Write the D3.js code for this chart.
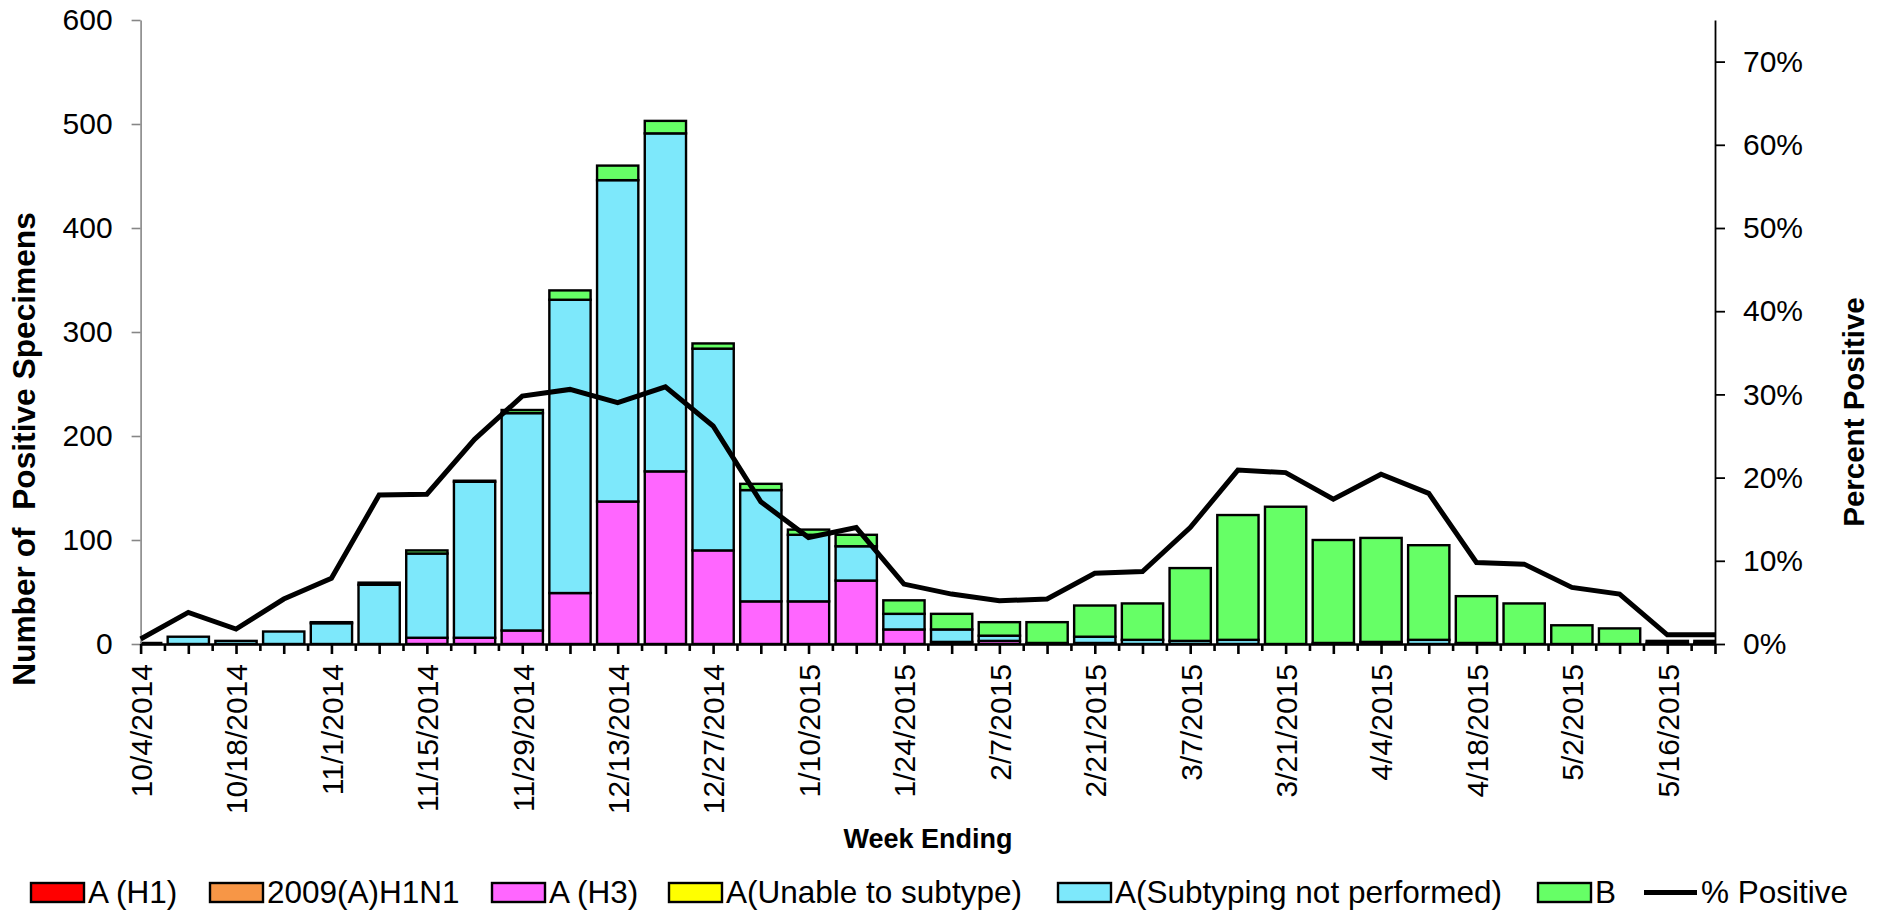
<!DOCTYPE html>
<html>
<head>
<meta charset="utf-8">
<script src="https://cdn.jsdelivr.net/npm/d3@7"></script>
<style>
  html, body { margin: 0; padding: 0; background: #fff; }
  svg { display: block; font-family: "Liberation Sans", Arial, sans-serif; }
</style>
</head>
<body>
<svg id="chart" width="1879" height="913"></svg>
<script>
// ---------------- DATA ----------------
const weeks = ["10/4/2014","10/11/2014","10/18/2014","10/25/2014","11/1/2014","11/8/2014","11/15/2014","11/22/2014",
  "11/29/2014","12/6/2014","12/13/2014","12/20/2014","12/27/2014","1/3/2015","1/10/2015","1/17/2015","1/24/2015",
  "1/31/2015","2/7/2015","2/14/2015","2/21/2015","2/28/2015","3/7/2015","3/14/2015","3/21/2015","3/28/2015",
  "4/4/2015","4/11/2015","4/18/2015","4/25/2015","5/2/2015","5/9/2015","5/16/2015","5/23/2015"];

const seriesNames = ["A (H1)", "2009(A)H1N1", "A (H3)", "A(Unable to subtype)", "A(Subtyping not performed)", "B"];
const seriesColors = ["#FF0000", "#F79646", "#FF66FF", "#FFFF00", "#7DE8FB", "#66FF66"];

const aH1      = [0,0,0,0,0,0,0,0,0,0,0,0,0,0,0,0,0,0,0,0,0,0,0,0,0,0,0,0,0,0,0,0,0,0];
const aH1N1    = [0,0,0,0,0,0,0,0,0,0,0,0,0,0,0,0,0,0,0,0,0,0,0,0,0,0,0,0,0,0,0,0,0,0];
const aH3      = [0,0,0,0,0,0,6,6,13,49,137,166,90,41,41,61,14,2,3,0,1,0,0,0,0,0,0,0,0,0,0,0,0,0];
const aUnable  = [0,0,0,0,0,0,0,0,0,0,0,0,0,0,0,0,0,0,0,0,0,0,0,0,0,0,0,0,0,0,0,0,0,0];
const aNotPerf = [1,7,3,12,20,57,81,150,209,282,309,325,194,107,64,33,15,12,5,1,6,4,3,4,0,1,2,4,1,0,0,0,1,1];
const bVals    = [0,0,0,0,1,2,3,1,3,9,14,12,5,6,5,11,13,15,13,20,30,35,70,120,132,99,100,91,45,39,18,15,2,2];
const pctPositive = [0.6,3.8,1.8,5.4,7.9,17.9,18.0,24.6,29.8,30.6,29.0,30.9,26.2,17.1,12.8,14.0,7.2,6.0,5.2,5.4,
  8.5,8.7,14.0,20.9,20.6,17.4,20.4,18.1,9.8,9.6,6.8,6.0,1.1,1.1];

const leftTicks = [0,100,200,300,400,500,600];
const rightTicks = [0,0.1,0.2,0.3,0.4,0.5,0.6,0.7];

// ---------------- LAYOUT ----------------
const svg = d3.select("#chart");
const X0 = 140.6, X1 = 1715, Y0 = 644, Y1 = 20;
const legendX = [31, 210, 492, 669, 1058, 1538, 1644];

const x = d3.scalePoint().domain(weeks).range([X0, X1]).padding(0);
const xi = d3.scaleLinear().domain([0, weeks.length - 1]).range([X0, X1]);
const y = d3.scaleLinear().domain([0, 600]).range([Y0, Y1]);
const y2 = d3.scaleLinear().domain([0, 0.75]).range([Y0, Y1]);

const barW = x.step() * 0.865;

const table = weeks.map((w, i) => ({
  week: w,
  [seriesNames[0]]: aH1[i],
  [seriesNames[1]]: aH1N1[i],
  [seriesNames[2]]: aH3[i],
  [seriesNames[3]]: aUnable[i],
  [seriesNames[4]]: aNotPerf[i],
  [seriesNames[5]]: bVals[i]
}));
const stacked = d3.stack().keys(seriesNames)(table);

svg.append("defs").append("clipPath").attr("id", "plotclip")
  .append("rect").attr("x", X0).attr("y", 0).attr("width", X1 - X0).attr("height", Y0 + 2);

const barsG = svg.append("g").attr("clip-path", "url(#plotclip)");
stacked.forEach((layer, k) => {
  barsG.append("g")
    .selectAll("rect")
    .data(layer.filter(d => d[1] - d[0] > 0))
    .join("rect")
    .attr("x", d => x(d.data.week) - barW / 2)
    .attr("width", barW)
    .attr("y", d => y(d[1]))
    .attr("height", d => y(d[0]) - y(d[1]))
    .attr("fill", seriesColors[k])
    .attr("stroke", "#000")
    .attr("stroke-width", 2.4);
});

// ---------------- AXES ----------------
const fontTick = 30;

// Left axis
const gl = svg.append("g").attr("transform", `translate(${X0},0)`)
  .call(d3.axisLeft(y).tickValues(leftTicks).tickSize(9).tickPadding(19).tickSizeOuter(0));
gl.select(".domain").attr("stroke", "#868686").attr("stroke-width", 1.6);
gl.selectAll(".tick line").attr("stroke", "#868686").attr("stroke-width", 1.6);
gl.selectAll(".tick text").attr("font-size", fontTick).attr("fill", "#000")
  .attr("font-family", "'Liberation Sans', Arial, sans-serif");

// Right axis
const gr = svg.append("g").attr("transform", `translate(${X1},0)`)
  .call(d3.axisRight(y2).tickValues(rightTicks).tickFormat(d3.format(".0%")).tickSize(10).tickPadding(18).tickSizeOuter(0));
gr.select(".domain").attr("stroke", "#000").attr("stroke-width", 1.8);
gr.selectAll(".tick line").attr("stroke", "#000").attr("stroke-width", 1.8);
gr.selectAll(".tick text").attr("font-size", fontTick).attr("fill", "#000")
  .attr("font-family", "'Liberation Sans', Arial, sans-serif");

// Bottom axis: minor ticks (between weeks)
const minorVals = d3.range(0, weeks.length - 1).map(i => i + 0.5);
const gbm = svg.append("g").attr("transform", `translate(0,${Y0})`)
  .call(d3.axisBottom(xi).tickValues(minorVals).tickSize(7).tickFormat("").tickSizeOuter(0));
gbm.select(".domain").remove();
gbm.selectAll(".tick line").attr("stroke", "#000").attr("stroke-width", 2.6);

// Bottom axis: major ticks at each week
const gb = svg.append("g").attr("transform", `translate(0,${Y0})`)
  .call(d3.axisBottom(x).tickSize(10).tickSizeOuter(0)
    .tickFormat((d, i) => (i % 2 === 0 && i < weeks.length - 1) ? d : ""));
gb.select(".domain").attr("stroke", "#000").attr("stroke-width", 2.6);
gb.selectAll(".tick line").attr("stroke", "#000").attr("stroke-width", 2.6);
gb.selectAll(".tick text")
  .attr("font-size", fontTick).attr("fill", "#000")
  .attr("font-family", "'Liberation Sans', Arial, sans-serif")
  .attr("transform", "rotate(-90)")
  .attr("text-anchor", "end")
  .attr("x", -20).attr("y", 0).attr("dy", "0.36em");

// ---------------- LINE ----------------
const line = d3.line()
  .x((d, i) => x(weeks[i]))
  .y(d => y2(d / 100));
svg.append("path")
  .datum(pctPositive)
  .attr("d", line)
  .attr("fill", "none")
  .attr("stroke", "#000")
  .attr("stroke-width", 5)
  .attr("stroke-linejoin", "miter");

// ---------------- TITLES ----------------
svg.append("text")
  .attr("transform", "translate(24,449) rotate(-90)")
  .attr("text-anchor", "middle").attr("dominant-baseline", "central")
  .attr("font-size", 31.7).attr("font-weight", "bold")
  .style("white-space", "pre")
  .text("Number of  Positive Specimens");

svg.append("text")
  .attr("transform", "translate(1853,412) rotate(-90)")
  .attr("text-anchor", "middle").attr("dominant-baseline", "central")
  .attr("font-size", 29.5).attr("font-weight", "bold")
  .text("Percent Positive");

svg.append("text")
  .attr("x", 928).attr("y", 848)
  .attr("text-anchor", "middle")
  .attr("font-size", 27).attr("font-weight", "bold")
  .text("Week Ending");

// ---------------- LEGEND ----------------
const legendItems = seriesNames.map((n, k) => ({ name: n, color: seriesColors[k], type: "rect" }))
  .concat([{ name: "% Positive", color: "#000", type: "line" }]);
const lg = svg.append("g");
legendItems.forEach((it, k) => {
  const cx = legendX[k];
  if (it.type === "rect") {
    lg.append("rect").attr("x", cx).attr("y", 883).attr("width", 53).attr("height", 19)
      .attr("fill", it.color).attr("stroke", "#000").attr("stroke-width", 2.4);
  } else {
    lg.append("line").attr("x1", cx).attr("x2", cx + 53).attr("y1", 892.5).attr("y2", 892.5)
      .attr("stroke", "#000").attr("stroke-width", 5);
  }
  lg.append("text").attr("x", cx + 57).attr("y", 903)
    .attr("font-size", 31.5).attr("fill", "#000").text(it.name);
});
</script>
</body>
</html>
